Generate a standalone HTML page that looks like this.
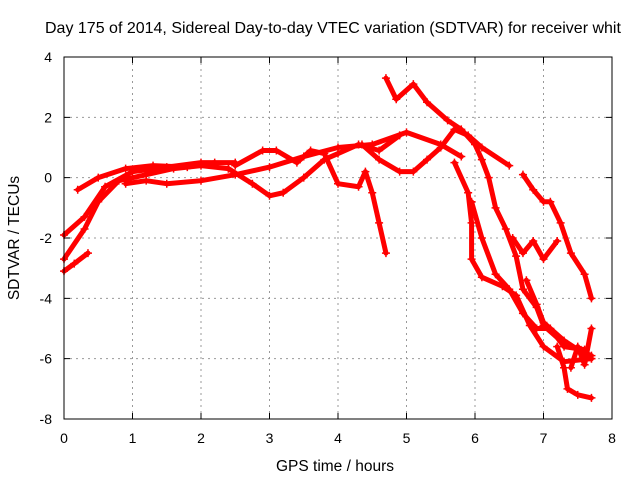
<!DOCTYPE html>
<html><head><meta charset="utf-8"><style>
body{margin:0;background:#fff}
svg{display:block;font-family:"Liberation Sans",sans-serif}
</style></head><body>
<svg id="chart" width="640" height="480">
<text x="45" y="33" font-size="16">Day 175 of 2014, Sidereal Day-to-day VTEC variation (SDTVAR) for receiver whit</text>
<g id="grid"></g>
<g id="series"></g>
<rect x="64" y="57" width="548" height="362" fill="none" stroke="#000" stroke-width="1"/>
<g id="ticks"></g>
<text x="335" y="471" text-anchor="middle" font-size="15.5">GPS time / hours</text>
<text transform="translate(19,238) rotate(-90)" text-anchor="middle" font-size="15.5">SDTVAR / TECUs</text>
</svg>
<script>
const xTicks=[0,1,2,3,4,5,6,7,8];
const yTicks=[4,2,0,-2,-4,-6,-8];
const trackA=[[0,-1.9],[0.3,-1.3],[0.6,-0.3],[1,0.2],[1.5,0.35],[2,0.5],[2.5,0.5]];
const trackB=[[0,-2.7],[0.3,-1.7],[0.5,-0.8],[0.8,-0.1],[1.2,0.1],[1.6,0.3],[2,0.4],[2.4,0.3]];
const trackC=[[0,-3.1],[0.15,-2.85],[0.35,-2.5]];
const trackD=[[0.2,-0.4],[0.5,0],[0.9,0.3],[1.3,0.4],[1.8,0.35],[2.2,0.5]];
const trackE=[[0.9,-0.2],[1.2,-0.1],[1.5,-0.2],[2,-0.1],[2.5,0.1],[3,0.35],[3.5,0.7],[4,1],[4.5,1.1],[5,1.5],[5.5,1.1],[5.8,0.7]];
const trackF=[[2.4,0.3],[2.75,-0.2],[3,-0.6],[3.2,-0.5],[3.5,0],[3.8,0.6],[4.0,0.8],[4.3,1.1],[4.6,0.9],[4.9,1.4]];
const trackG=[[2.5,0.4],[2.9,0.9],[3.1,0.9],[3.4,0.5],[3.6,0.9],[3.8,0.8],[4.0,-0.2],[4.3,-0.3],[4.4,0.2],[4.5,-0.5],[4.6,-1.5],[4.7,-2.5]];
const trackH=[[4.7,3.3],[4.85,2.6],[5.1,3.1],[5.3,2.5],[5.6,1.9],[5.8,1.6],[6.0,1.1],[6.1,0.6],[6.2,0],[6.3,-1],[6.45,-1.7],[6.6,-2.6],[6.7,-3.7],[6.9,-4.3],[7.0,-4.9],[7.3,-5.5],[7.7,-5.9]];
const trackI=[[4.35,1.1],[4.6,0.6],[4.9,0.2],[5.1,0.2],[5.3,0.6],[5.5,1.0],[5.7,1.6],[5.9,1.4],[6.1,1.0],[6.5,0.4]];
const trackJ=[[5.95,-0.8],[6.1,-2],[6.3,-3.2],[6.5,-3.7],[6.7,-4.5],[6.9,-5.0],[7.1,-5.0],[7.3,-5.6],[7.6,-5.7]];
const trackK=[[5.7,0.5],[5.9,-0.5],[5.95,-1.5],[5.95,-2.7],[6.1,-3.3],[6.4,-3.6],[6.6,-3.9],[6.8,-4.9],[7.0,-5.6],[7.3,-6.1],[7.7,-6.0]];
const trackL=[[6.55,-2.0],[6.7,-2.5],[6.85,-2.1],[7.0,-2.7],[7.2,-2.1]];
const trackM=[[6.75,-3.4],[6.9,-4.2],[7.0,-4.8],[7.3,-5.4],[7.5,-5.7],[7.7,-6.0]];
const trackN=[[6.7,0.1],[6.85,-0.4],[7.0,-0.8],[7.1,-0.8],[7.25,-1.5],[7.4,-2.5],[7.6,-3.2],[7.7,-4.0]];
const trackO=[[7.2,-5.6],[7.3,-6.3],[7.35,-7.0],[7.5,-7.2],[7.7,-7.3]];
const trackP=[[7.4,-6.3],[7.5,-5.6],[7.6,-6.2],[7.7,-5.0]];
const tracks=[trackA,trackB,trackC,trackD,trackE,trackF,trackG,trackH,trackI,trackJ,trackK,trackL,trackM,trackN,trackO,trackP];
const NS="http://www.w3.org/2000/svg";
const X=h=>64+h*548/8, Y=v=>57+(4-v)*362/12;
const grid=document.getElementById('grid'),ticks=document.getElementById('ticks'),ser=document.getElementById('series');
xTicks.forEach(t=>{
 const x=X(t);
 if(t>0&&t<8){const l=document.createElementNS(NS,'line');l.setAttribute('x1',x);l.setAttribute('x2',x);l.setAttribute('y1',57);l.setAttribute('y2',419);l.setAttribute('stroke','#999');l.setAttribute('stroke-dasharray','2,4');
 
 grid.appendChild(l);}
 const tk=document.createElementNS(NS,'path');tk.setAttribute('d',`M${x},419v-6M${x},57v6`);tk.setAttribute('stroke','#000');
 
 ticks.appendChild(tk);
 const tx=document.createElementNS(NS,'text');tx.setAttribute('x',x);tx.setAttribute('y',443);tx.setAttribute('text-anchor','middle');tx.setAttribute('font-size','14');tx.textContent=t;
 
 ticks.appendChild(tx);
});
yTicks.forEach(t=>{
 const y=Y(t);
 if(t>-8&&t<4){const l=document.createElementNS(NS,'line');l.setAttribute('x1',64);l.setAttribute('x2',612);l.setAttribute('y1',y);l.setAttribute('y2',y);l.setAttribute('stroke','#999');l.setAttribute('stroke-dasharray','2,4');
 
 grid.appendChild(l);}
 const tk=document.createElementNS(NS,'path');tk.setAttribute('d',`M64,${y}h6M612,${y}h-6`);tk.setAttribute('stroke','#000');
 
 ticks.appendChild(tk);
 const tx=document.createElementNS(NS,'text');tx.setAttribute('x',52);tx.setAttribute('y',y+5);tx.setAttribute('text-anchor','end');tx.setAttribute('font-size','14');tx.textContent=t;
 
 ticks.appendChild(tx);
});
tracks.forEach(tr=>{
 const p=document.createElementNS(NS,'polyline');
 p.setAttribute('points',tr.map(d=>X(d[0])+','+Y(d[1])).join(' '));
 p.setAttribute('fill','none');p.setAttribute('stroke','#f00');p.setAttribute('stroke-width','5');p.setAttribute('stroke-linejoin','round');p.setAttribute('stroke-linecap','round');
 
 
 ser.appendChild(p);
 tr.forEach(d=>{
  const m=document.createElementNS(NS,'path');const x=X(d[0]),y=Y(d[1]);
  m.setAttribute('d',`M${x-4},${y}h8M${x},${y-4}v8`);m.setAttribute('stroke','#f00');m.setAttribute('stroke-width','1.5');
  
  
  ser.appendChild(m);
 });
});
</script>
</body></html>
